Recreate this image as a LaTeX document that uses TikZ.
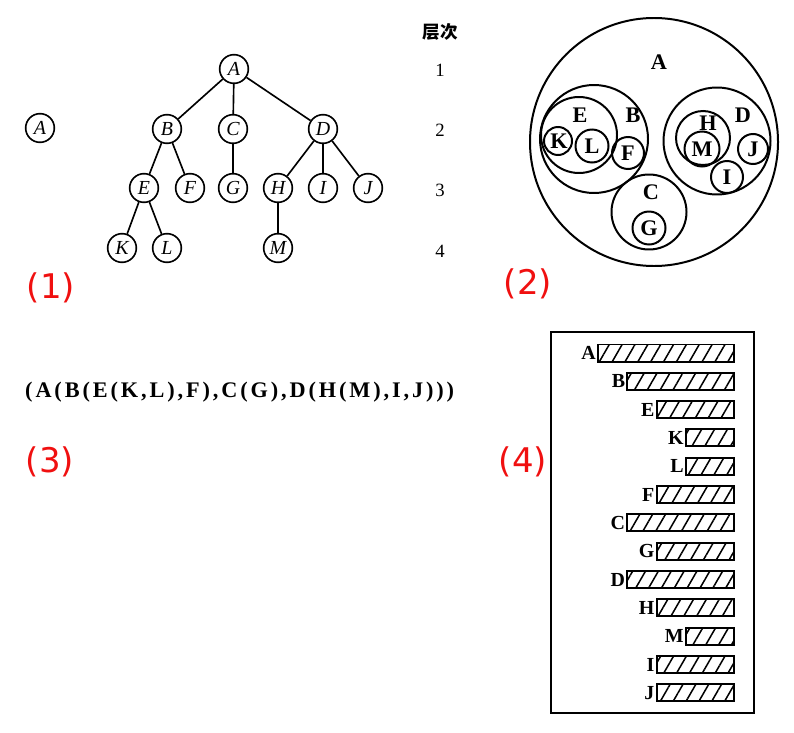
\documentclass[tikz,border=0pt]{standalone}
\usepackage{fontspec}
\setmainfont{Liberation Serif}
\newfontfamily\cjk{Noto Sans CJK SC}
\newfontfamily\redfont{DejaVu Sans}
\usepackage{tikz}
\usetikzlibrary{patterns.meta}
\usepackage{xcolor}
\definecolor{partred}{HTML}{F01010}

\begin{document}
\begin{tikzpicture}[x=0.03cm,y=-0.03cm,
    tnode/.style={circle,draw,line width=1.4pt,minimum size=0.86cm,inner sep=0pt,
      font=\itshape\fontsize{17}{20}\selectfont},
    tedge/.style={line width=1.4pt},
    ring/.style={line width=1.7pt},
    rlab/.style={font=\fontsize{19}{22}\selectfont\bfseries,inner sep=0pt},
    partlab/.style={text=partred,font=\redfont\fontsize{29}{34}\selectfont},
    bar/.style={line width=1.7pt,pattern={Lines[angle=60,distance=9.5pt,line width=1.3pt]}}]
  \useasboundingbox (0,0) rectangle (794,732);

  % (1) tree
  \node[tnode] (single) at (40,128) {A};
  \node[tnode] (tA) at (234,69) {A};
  \node[tnode] (tB) at (167,129) {B};
  \node[tnode] (tC) at (233,129) {C};
  \node[tnode] (tD) at (323,129) {D};
  \node[tnode] (tE) at (144,188) {E};
  \node[tnode] (tF) at (190,188) {F};
  \node[tnode] (tG) at (233,188) {G};
  \node[tnode] (tH) at (278,188) {H};
  \node[tnode] (tI) at (323,188) {I};
  \node[tnode] (tJ) at (368,188) {J};
  \node[tnode] (tK) at (122,248) {K};
  \node[tnode] (tL) at (167,248) {L};
  \node[tnode] (tM) at (278,248) {M};
  \foreach \p/\c in {A/B,A/C,A/D,B/E,B/F,C/G,D/H,D/I,D/J,E/K,E/L,H/M}
    \draw[tedge] (t\p) -- (t\c);
  % levels
  \node[font=\cjk\bfseries\fontsize{15}{18}\selectfont] (lvhead) at (440,32) {层次};
  \foreach \n/\y in {1/70,2/130,3/190,4/251}
    \node[font=\fontsize{16}{18}\selectfont] (lv\n) at (440,\y) {\n};
  \node[partlab] (lab1) at (51,288) {(1)};

  % (2) nested circles
  \draw[ring] (654,142) circle (124);
  \node[rlab] (cA) at (659,62) {A};
  \draw[ring] (594,139) circle (54);
  \node[rlab] (cB) at (633,115) {B};
  \draw[ring] (579,135) circle (38);
  \node[rlab] (cE) at (580,115) {E};
  \draw[ring] (558,141) circle (14);
  \node[rlab] (cK) at (559,141) {K};
  \draw[ring] (592,146) circle (16.5);
  \node[rlab] (cL) at (592,146) {L};
  \draw[ring] (628,153) circle (16);
  \node[rlab] (cF) at (628,153) {F};
  \draw[ring] (649,212) circle (37.5);
  \node[rlab] (cC) at (651,192) {C};
  \draw[ring] (649,228) circle (16.5);
  \node[rlab] (cG) at (649,228) {G};
  \draw[ring] (717,141) circle (53.5);
  \node[rlab] (cD) at (743,115) {D};
  \draw[ring] (703,138) circle (27);
  \node[rlab] (cH) at (708,123) {H};
  \draw[ring] (702,149) circle (17.5);
  \node[rlab] (cM) at (702,149) {M};
  \draw[ring] (727,177) circle (16);
  \node[rlab] (cI) at (727,177) {I};
  \draw[ring] (753,149) circle (15);
  \node[rlab] (cJ) at (753,149) {J};
  \node[partlab] (lab2) at (528,284) {(2)};

  % (3) generalized list
  \node[anchor=base west,inner sep=0pt,
    font=\addfontfeature{LetterSpace=13}\fontsize{19}{22}\selectfont\bfseries] (expr) at (25,397)
    {(A(B(E(K,L),F),C(G),D(H(M),I,J)))};
  \node[partlab] (lab3) at (50,462) {(3)};

  % (4) indented bars
  \draw[line width=1.3pt] (551,332) rectangle (754,713);
  \foreach \lab/\lev [count=\i] in {A/1,B/2,E/3,K/4,L/4,F/3,C/2,G/3,D/2,H/3,M/4,I/3,J/3} {
    \pgfmathsetmacro{\xl}{598+(\lev-1)*29.3}
    \pgfmathsetmacro{\yc}{353+(\i-1)*28.33}
    \draw[bar] (\xl,\yc-8.5) rectangle (734,\yc+8.5);
    \node[rlab,font=\fontsize{17}{20}\selectfont\bfseries,anchor=east] (b\lab) at (\xl-2,\yc) {\lab};
  }
  \node[partlab] (lab4) at (523,462) {(4)};
\end{tikzpicture}
\end{document}
